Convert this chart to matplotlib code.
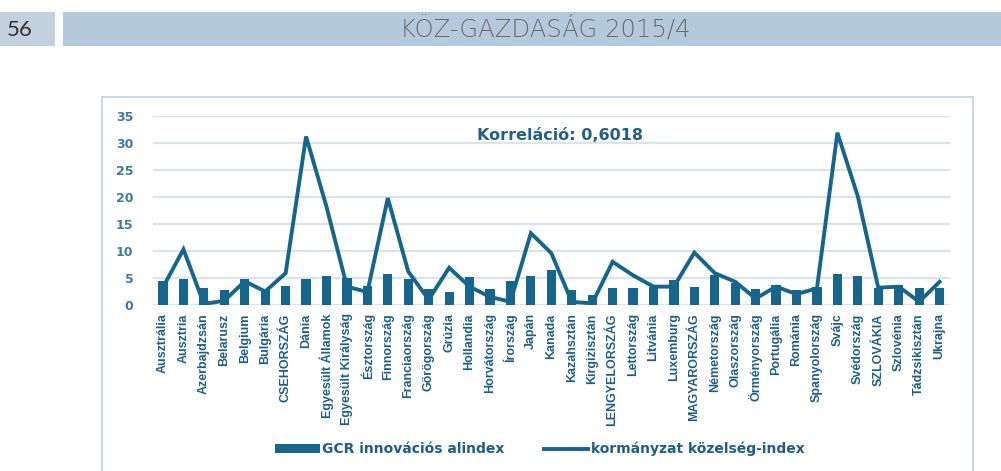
import matplotlib
matplotlib.use("Agg")
import matplotlib.pyplot as plt
from matplotlib.patches import Rectangle
from matplotlib.lines import Line2D
import numpy as np

# ============================================
# Data
# ============================================
countries = [
    "Ausztrália", "Ausztria", "Azerbajdzsán", "Belarusz", "Belgium", "Bulgária",
    "CSEHORSZÁG", "Dánia", "Egyesült Államok", "Egyesült Királyság", "Észtország",
    "Finnország", "Franciaország", "Görögország", "Grúzia", "Hollandia",
    "Horvátország", "Írország", "Japán", "Kanada", "Kazahsztán", "Kirgizisztán",
    "LENGYELORSZÁG", "Lettország", "Litvánia", "Luxemburg", "MAGYARORSZÁG",
    "Németország", "Olaszország", "Örményország", "Portugália", "Románia",
    "Spanyolország", "Svájc", "Svédország", "SZLOVÁKIA", "Szlovénia",
    "Tádzsikisztán", "Ukrajna",
]

gcr_innovation = [
    4.4, 4.8, 3.1, 2.8, 4.9, 2.7, 3.6, 4.8, 5.4, 5.0, 3.5,
    5.7, 4.8, 2.9, 2.5, 5.1, 2.9, 4.4, 5.4, 6.5, 2.8, 1.9,
    3.1, 3.1, 3.4, 4.6, 3.4, 5.6, 4.0, 2.9, 3.7, 2.8,
    3.4, 5.7, 5.4, 3.1, 3.7, 3.1, 3.1,
]

gov_proximity = [
    3.3, 10.3, 0.2, 0.8, 4.4, 2.5, 5.9, 31.2, 18.2, 3.4, 2.4,
    19.8, 6.2, 1.0, 6.9, 3.4, 1.5, 0.6, 13.3, 9.6, 0.6, 0.3,
    8.0, 5.5, 3.4, 3.4, 9.7, 5.9, 4.3, 1.2, 3.4, 2.0,
    3.1, 31.9, 20.1, 3.2, 3.4, 0.6, 4.3,
]

correlation_text = "Korreláció: 0,6018"
header_text = "KÖZ-GAZDASÁG 2015/4"
page_number = "56"

# ============================================
# Styling
# ============================================
BLUE = "#16658c"
TEXT_BLUE = "#1d5e88"
GRID = "#dbe3ec"
HEADER_BG = "#b5c9dd"
FRAME = "#c9d8e7"

W, H = 1001, 471
fig = plt.figure(figsize=(W / 100, H / 100), dpi=100)
fig.patch.set_facecolor("white")


def fx(px):
    return px / W


def fy(py):
    return 1 - py / H


# header
fig.patches.append(Rectangle((fx(0), fy(46)), fx(55), 34 / H,
                             transform=fig.transFigure, facecolor="#c3d1df",
                             edgecolor="none", zorder=0))
fig.patches.append(Rectangle((fx(63), fy(46)), fx(W - 63), 34 / H,
                             transform=fig.transFigure, facecolor=HEADER_BG,
                             edgecolor="none", zorder=0))
fig.text(fx(20), fy(30), page_number, ha="center", va="center",
         fontsize=16, color="#333333", family="Lato")
fig.text(fx(545), fy(29), header_text, ha="center", va="center",
         fontsize=17.5, color="#6b6b6b", family="DejaVu Sans",
         fontweight="light")

# chart frame (outline only, so the axes stay visible)
fig.patches.append(Rectangle((fx(102), fy(475)), fx(871), 378 / H,
                             transform=fig.transFigure, facecolor="none",
                             edgecolor=FRAME, linewidth=1.5, zorder=0))

# ============================================
# Plot
# ============================================
ax = fig.add_axes([fx(152.8), fy(305), fx(797), 189 / H])
ax.set_facecolor("none")
ax.set_zorder(2)
x = np.arange(len(countries))

ax.bar(x, gcr_innovation, width=0.45, color=BLUE, zorder=2)
ax.plot(x, gov_proximity, color=BLUE, linewidth=2.8, zorder=3,
        solid_joinstyle="miter")

ax.set_xlim(-0.5, len(countries) - 0.5)
ax.set_ylim(0, 35)
ax.set_yticks(range(0, 36, 5))
ax.yaxis.grid(True, color=GRID, linewidth=1.6, zorder=0)
ax.set_axisbelow(True)
for s in ax.spines.values():
    s.set_visible(False)
ax.tick_params(axis="both", length=0)
ax.tick_params(axis="y", pad=14, labelsize=9, labelcolor="#3b7ba3")
for lbl in ax.get_yticklabels():
    lbl.set_fontweight("bold")

ax.set_xticks(x)
ax.set_xticklabels(countries, rotation=90, fontsize=9, color=TEXT_BLUE,
                   fontweight="bold", family="Liberation Sans")
ax.tick_params(axis="x", pad=6)

ax.text(0.511, 0.895, correlation_text, transform=ax.transAxes, ha="center",
        va="center", fontsize=11.5, fontweight="bold", color="#245f86")

# legend
handles = [
    Rectangle((0, 0), 1, 1, facecolor=BLUE, edgecolor="none"),
    Line2D([0], [0], color=BLUE, linewidth=2.8),
]
fig.legend(handles, ["GCR innovációs alindex", "kormányzat közelség-index"],
           loc="center", bbox_to_anchor=(fx(540), fy(449)), ncol=2,
           frameon=False, handlelength=3.2, handleheight=0.55,
           handletextpad=0.2, columnspacing=2.8,
           prop={"size": 10, "weight": "bold"}, labelcolor=TEXT_BLUE)

fig.savefig("out.png", dpi=100)
